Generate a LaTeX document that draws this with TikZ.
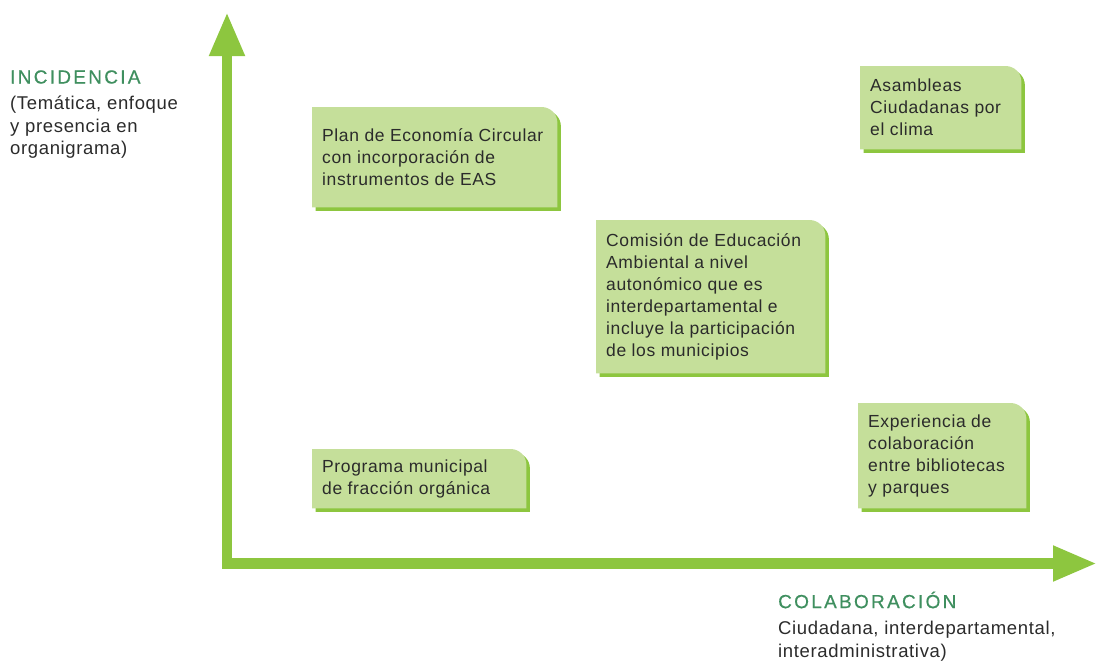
\documentclass[tikz,border=0pt]{standalone}
\usepackage{fontspec}
\setmainfont{Liberation Sans}[LetterSpace=3.5]
\usetikzlibrary{arrows.meta,backgrounds}

\definecolor{verdeClaro}{HTML}{C5DF9A}
\definecolor{verdeEje}{HTML}{8DC63F}
\definecolor{verdeTitulo}{HTML}{3F8F5F}
\definecolor{gris}{HTML}{2B2B2B}

% fondo de una ficha: esquina superior derecha redondeada
\newcommand\fondoficha[3]{%
  \fill[#3] ([shift={#2}]#1.south west) -- ([shift={#2}]#1.north west)
    -- ([shift={#2},xshift=-16pt]#1.north east)
    .. controls ([shift={#2},xshift=-7pt]#1.north east) and ([shift={#2},yshift=-7pt]#1.north east)
    .. ([shift={#2},yshift=-16pt]#1.north east)
    -- ([shift={#2}]#1.south east) -- cycle;}

\begin{document}
\begin{tikzpicture}[x=1pt,y=-1pt,
    ficha/.style={anchor=north west, inner xsep=10pt, inner ysep=0pt, align=flush left,
      text=gris, font=\fontsize{17.5}{22}\selectfont},
    titulo/.style={anchor=west, inner sep=0pt, text=verdeTitulo,
      font=\fontsize{19}{22}\selectfont\addfontfeatures{LetterSpace=12.0,FakeBold=0.6}},
    nota/.style={anchor=north west, inner sep=0pt, align=flush left, text=gris,
      font=\fontsize{18.5}{22.5}\selectfont}]
  \useasboundingbox (0,0) rectangle (1098,664);

  % ejes
  \coordinate (origen) at (227,563.5);
  \coordinate (arriba) at (227,12);
  \coordinate (derecha) at (1097,563.5);
  \draw[verdeEje, line width=10.5pt, line join=miter,
    {Triangle[width=33pt,length=44pt]}-{Triangle[width=33pt,length=44pt]}]
    (arriba) -- (origen) -- (derecha);

  \node[titulo] (incidencia) at (10,77) {INCIDENCIA};
  \node[nota] (incidenciaTexto) at (10,96) {(Temática, enfoque\\y presencia en\\organigrama)};
  \node[titulo] (colaboracion) at (778,600) {COLABORACIÓN};
  \node[nota] (colaboracionTexto) at (778,621) {Ciudadana, interdepartamental,\\interadministrativa)};

  \node[ficha, text width=225pt, minimum height=100pt] (plan) at (312,107)
    {Plan de Economía Circular\\con incorporación de\\instrumentos de EAS};
  \node[ficha, text width=141pt, minimum height=83pt] (asambleas) at (860,66)
    {Asambleas\\Ciudadanas por\\el clima};
  \node[ficha, text width=209pt, minimum height=153pt] (comision) at (596,220)
    {Comisión de Educación\\Ambiental a nivel\\autonómico que es\\interdepartamental e\\incluye la participación\\de los municipios};
  \node[ficha, text width=194pt, minimum height=59pt] (programa) at (312,449)
    {Programa municipal\\de fracción orgánica};
  \node[ficha, text width=148pt, minimum height=105pt] (experiencia) at (858,403)
    {Experiencia de\\colaboración\\entre bibliotecas\\y parques};

  \begin{scope}[on background layer]
    \foreach \c in {plan,asambleas,comision,programa,experiencia}{
      \fondoficha{\c}{(3.5,3.5)}{verdeEje}
      \fondoficha{\c}{(0,0)}{verdeClaro}
    }
  \end{scope}
\end{tikzpicture}
\end{document}
